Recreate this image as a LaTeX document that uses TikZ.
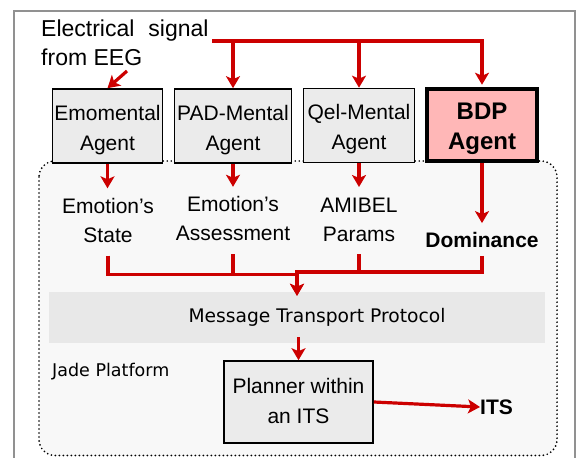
\documentclass[tikz,border=0pt]{standalone}
\usepackage{fontspec}
\setmainfont{Liberation Sans}
\newfontfamily\dejavu{DejaVu Sans}
\usetikzlibrary{arrows.meta}
\definecolor{sigred}{RGB}{204,0,0}
\definecolor{boxgray}{RGB}{235,235,235}
\definecolor{bdppink}{RGB}{255,183,183}
\definecolor{mtpgray}{RGB}{232,232,232}
\definecolor{jadebg}{RGB}{248,248,248}
\definecolor{framegray}{RGB}{145,145,145}
\newcommand\agentstrut{\rule{0pt}{28pt}}
\newcommand\twolines[2]{\begin{tabular}{@{}c@{}}#1\\#2\end{tabular}}
\begin{document}
\begin{tikzpicture}[x=1pt,y=-1pt,
  agentbox/.style={draw=black, line width=1.6pt, fill=boxgray, minimum height=74pt, inner sep=0pt, font=\fontsize{21}{30}\selectfont},
  outtext/.style={inner sep=4.5pt, font=\fontsize{21}{29}\selectfont},
  redline/.style={draw=sigred, line width=3.2pt},
  redarrow/.style={redline, -{Stealth[length=12pt,width=14pt,inset=3pt]}},
]
\useasboundingbox (0,0) rectangle (577,457);
\begin{scope}
\clip (0,0) rectangle (577,457);
\draw[framegray, line width=2pt] (14,11) rectangle (575,480);
\end{scope}
% Jade platform region
\draw[line width=1.9pt, line cap=round, dash pattern=on 0pt off 4pt, fill=jadebg, rounded corners=16pt] (39,161) rectangle (557,455.5);
\node[fill=mtpgray, minimum width=496pt, minimum height=51pt, inner sep=0pt, font=\dejavu\fontsize{18.7}{20}\selectfont] (mtp) at (297,317.5) {\hspace*{40pt}Message Transport Protocol};
\node[anchor=west, inner sep=0pt, font=\dejavu\fontsize{17.5}{20}\selectfont] (jade) at (52,372) {Jade Platform};
% signal text
\node[anchor=west, inner sep=0pt, align=left, font=\fontsize{23}{29}\selectfont] (sig) at (41,43) {Electrical\hspace{14pt}signal\\from EEG};
% agents
\node[agentbox, minimum width=110pt] (emo) at (107.5,126) {\twolines{\agentstrut Emomental}{Agent}};
\node[agentbox, minimum width=117pt] (pad) at (233,126) {\twolines{\agentstrut PAD-Mental}{Agent}};
\node[agentbox, minimum width=111pt] (qel) at (359,125.5) {\twolines{\agentstrut Qel-Mental}{Agent}};
\node[agentbox, line width=4.5pt, fill=bdppink, minimum width=110pt, minimum height=72pt, font=\bfseries\fontsize{24}{30}\selectfont] (bdp) at (482,125) {\twolines{\agentstrut BDP}{Agent}};
% outputs
\node[outtext] (es) at (108,222) {\twolines{Emotion’s}{State}};
\node[outtext] (ea) at (233,220.5) {\twolines{Emotion’s}{Assessment}};
\node[outtext] (am) at (359,220.7) {\twolines{AMIBEL}{Params}};
\node[inner sep=8.5pt, font=\bfseries\fontsize{21}{29}\selectfont] (dom) at (482,239.5) {Dominance};
% planner
\node[agentbox, minimum width=149pt, minimum height=82pt] (plan) at (298.5,402) {\twolines{Planner within}{an ITS}};
\node[anchor=west, inner sep=0pt, font=\bfseries\fontsize{21}{25}\selectfont] (its) at (480,407) {ITS};
% connectors
\coordinate (sigout) at (212,41);
\coordinate (sigdn) at (127,71);
\draw[redarrow, shorten >=2pt] (sigout) -| (bdp.north);
\draw[redarrow] (sigout -| pad.north) -- (pad.north);
\draw[redarrow] (sigout -| qel.north) -- (qel.north);
\draw[redarrow] (sigdn) -- (emo.north);
\draw[redarrow] (emo.south) -- (emo.south |- es.north);
\draw[redarrow] (pad.south) -- (pad.south |- ea.north);
\draw[redarrow] (qel.south) -- (qel.south |- am.north);
\draw[redarrow] (bdp.south) -- (bdp.south |- dom.north);
\coordinate (mergeL) at (297,274.5);
\coordinate (mergeR) at (297,272);
\draw[redarrow, shorten >=-4pt] (es.south) |- (mergeL) -- (mergeL |- mtp.north);
\draw[redarrow, shorten >=-4pt] (dom.south) |- (mergeR) -- (mergeR |- mtp.north);
\draw[redline] (ea.south) -- (ea.south |- mergeL);
\draw[redline] (am.south) -- (am.south |- mergeR);
\draw[redarrow] ([yshift=6pt]mtp.south -| plan.north) -- (plan.north);
\draw[redarrow] (plan.east) -- (its.west);
\end{tikzpicture}
\end{document}
